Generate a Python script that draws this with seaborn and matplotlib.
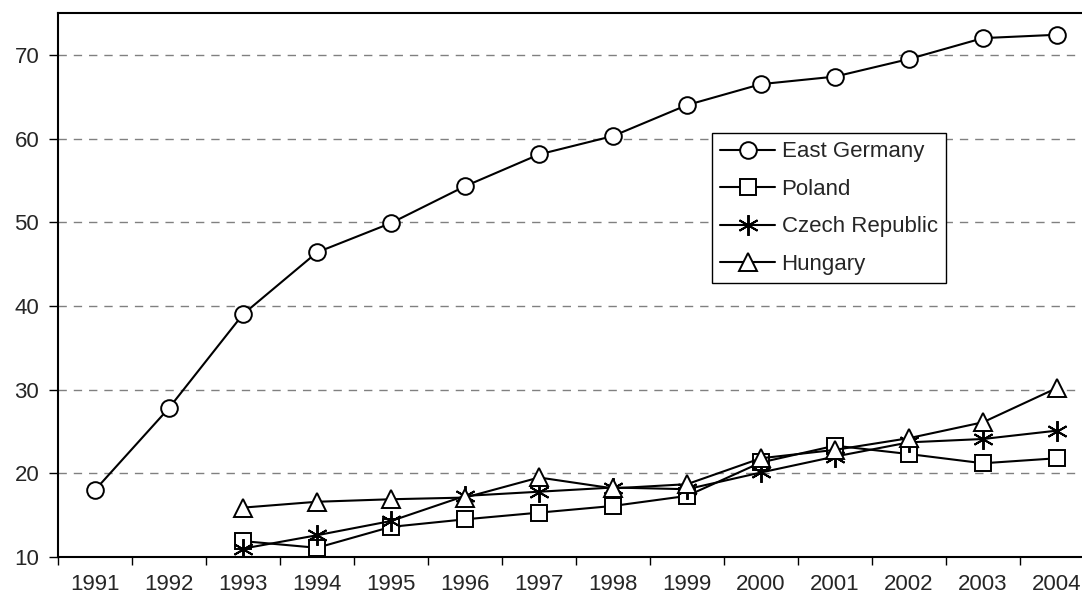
import pandas as pd
from matplotlib import pyplot as plt
from matplotlib.ticker import FixedLocator
import seaborn as sb

sb.set_style("white")
plt.rcParams['font.family'] = ['Liberation Sans', 'DejaVu Sans']

# data
years_eg = [1991, 1992, 1993, 1994, 1995, 1996, 1997, 1998, 1999, 2000,
            2001, 2002, 2003, 2004]
east_germany = [18.0, 27.8, 39.0, 46.4, 49.9, 54.3, 58.1, 60.3, 64.0, 66.5,
                67.4, 69.5, 72.0, 72.4]
years = [1993, 1994, 1995, 1996, 1997, 1998, 1999, 2000, 2001, 2002, 2003, 2004]
poland = [11.9, 11.1, 13.6, 14.5, 15.3, 16.1, 17.3, 21.3, 23.3, 22.3, 21.2, 21.8]
czech = [11.0, 12.6, 14.3, 17.3, 17.8, 18.3, 18.1, 20.1, 22.0, 23.7, 24.1, 25.1]
hungary = [15.9, 16.6, 16.9, 17.1, 19.5, 18.2, 18.7, 21.8, 22.8, 24.2, 26.1, 30.2]

dfE = pd.DataFrame({'year': years_eg, 'value': east_germany})
dfP = pd.DataFrame({'year': years, 'poland': poland, 'czech': czech,
                    'hungary': hungary})

fig = plt.figure(figsize=(10.82, 6.0), dpi=100)
# axes run past the right edge like the original crop
ax = fig.add_axes([58 / 1082, 43 / 600, 1036 / 1082, 544 / 600])

style = dict(color='black', linewidth=1.5,
             markerfacecolor='white', markeredgecolor='black',
             markeredgewidth=1.4)

sb.lineplot(data=dfE, x='year', y='value', marker='o', markersize=12,
            label='East Germany', ax=ax, **style)
sb.lineplot(data=dfP, x='year', y='poland', marker='s', markersize=11,
            label='Poland', ax=ax, **style)
sb.lineplot(data=dfP, x='year', y='czech', marker=(6, 2, 0), markersize=15,
            label='Czech Republic', ax=ax, **style)
sb.lineplot(data=dfP, x='year', y='hungary', marker='^', markersize=13,
            label='Hungary', ax=ax, **style)

ax.set_xlim(1990.5, 2004.5)
ax.set_ylim(10, 75)
ax.set_xlabel('')
ax.set_ylabel('')

ax.set_xticks(years_eg)
ax.set_xticklabels([str(y) for y in years_eg])
ax.xaxis.set_minor_locator(FixedLocator([y + 0.5 for y in range(1990, 2005)]))
ax.tick_params(axis='x', which='major', length=0, pad=12, labelsize=16)
ax.tick_params(axis='x', which='minor', length=6, width=1, color='black',
               direction='out', bottom=True)
ax.set_yticks(range(10, 80, 10))
ax.tick_params(axis='y', length=6.5, width=1, color='black', direction='out',
               left=True, labelsize=16, pad=7)

for y in range(20, 80, 10):
    ax.axhline(y, color='#808080', linestyle=(0, (6, 5)), linewidth=1,
               zorder=0)

for side in ['left', 'bottom', 'top']:
    ax.spines[side].set_color('black')
    ax.spines[side].set_linewidth(1.5)
ax.spines['right'].set_visible(False)

leg = ax.legend(loc='upper left', bbox_to_anchor=(712 / 1082, 1 - 133 / 600),
                bbox_transform=fig.transFigure, borderaxespad=0,
                fancybox=False, framealpha=1, edgecolor='black',
                fontsize=16, handlelength=2.45, handletextpad=0.3,
                labelspacing=0.74, borderpad=0.38)
leg.get_frame().set_linewidth(1.0)

fig.savefig('out.png', dpi=100)
